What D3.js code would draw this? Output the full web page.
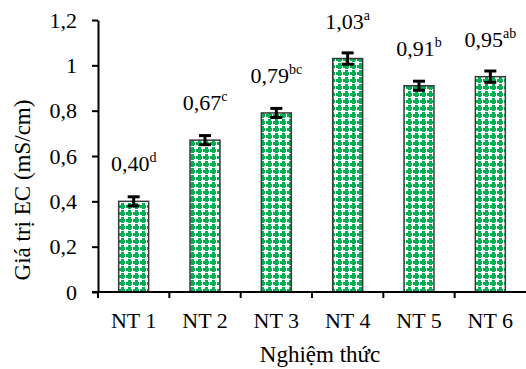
<!DOCTYPE html>
<html>
<head>
<meta charset="utf-8">
<script src="https://cdn.jsdelivr.net/npm/d3@7"></script>
<style>
  body { margin: 0; background: #fff; }
  svg text { font-family: "Liberation Serif", "Times New Roman", serif; fill: #000; }
</style>
</head>
<body>
<div class="chart"></div>
<script>
// data
const treatments = ["NT 1", "NT 2", "NT 3", "NT 4", "NT 5", "NT 6"];
const ecValues = [0.40, 0.67, 0.79, 1.03, 0.91, 0.95];
const ecErrors = [0.02, 0.02, 0.02, 0.025, 0.02, 0.025];
const sigLetters = ["d", "c", "bc", "a", "b", "ab"];
const yTicks = [0, 0.2, 0.4, 0.6, 0.8, 1, 1.2];

const data = treatments.map((t, i) => ({ name: t, value: ecValues[i], err: ecErrors[i], sig: sigLetters[i] }));

const W = 526, H = 369;
const margin = { top: 20, right: 0, bottom: 77, left: 98 };
const fs = "22px";

const svg = d3.select(".chart").append("svg")
    .attr("width", W)
    .attr("height", H);

// green crosses on white (Excel pattern fill)
const defs = svg.append("defs");
const pat = defs.append("pattern")
    .attr("id", "greenPat")
    .attr("patternUnits", "userSpaceOnUse")
    .attr("width", 7).attr("height", 7);
pat.append("rect").attr("width", 7).attr("height", 7).attr("fill", "#fff");
pat.append("rect").attr("x", 2).attr("y", 0).attr("width", 3).attr("height", 6).attr("fill", "#00b050");
pat.append("rect").attr("x", 0).attr("y", 2).attr("width", 6).attr("height", 3).attr("fill", "#00b050");

const x = d3.scaleBand()
    .domain(treatments)
    .range([margin.left, W - margin.right])
    .padding(0);

const y = d3.scaleLinear()
    .domain([0, 1.2])
    .range([H - margin.bottom, margin.top]);

const barW = x.bandwidth() * 0.42;

// Draw bars
svg.append("g")
    .selectAll("rect")
    .data(data)
    .enter().append("rect")
    .attr("x", d => x(d.name) + (x.bandwidth() - barW) / 2)
    .attr("y", d => y(d.value))
    .attr("width", barW)
    .attr("height", d => y(0) - y(d.value))
    .attr("fill", "url(#greenPat)")
    .attr("stroke", "#3a3a3a")
    .attr("stroke-width", 1.5);

// error bars
const eb = svg.append("g").attr("stroke", "#000").attr("stroke-width", 3);
data.forEach(d => {
    const cx = x(d.name) + x.bandwidth() / 2;
    eb.append("line")
        .attr("x1", cx).attr("x2", cx)
        .attr("y1", y(d.value - d.err)).attr("y2", y(d.value + d.err));
    [d.value - d.err, d.value + d.err].forEach(v => {
        eb.append("line")
            .attr("x1", cx - 6).attr("x2", cx + 6)
            .attr("y1", y(v)).attr("y2", y(v));
    });
});

// value labels with superscript letters
const labels = svg.append("g")
    .selectAll("text")
    .data(data)
    .enter().append("text")
    .attr("x", d => x(d.name) + x.bandwidth() / 2)
    .attr("y", d => y(d.value) - 30)
    .attr("text-anchor", "middle")
    .style("font-size", fs);
labels.append("tspan").text(d => d.value.toFixed(2).replace(".", ","));
labels.append("tspan")
    .attr("dy", -9)
    .style("font-size", "14px")
    .text(d => d.sig);

// Add y-axis
const yAxis = svg.append("g")
    .attr("transform", `translate(${margin.left},0)`)
    .call(d3.axisLeft(y)
        .tickValues(yTicks)
        .tickSize(6)
        .tickSizeOuter(0)
        .tickPadding(15)
        .tickFormat(d => String(d).replace(".", ",")));
yAxis.select(".domain").attr("stroke-width", 2);
yAxis.selectAll(".tick line").attr("stroke-width", 2);
yAxis.selectAll(".tick text").style("font-size", fs).attr("font-family", null);

// Add x-axis
const xAxis = svg.append("g")
    .attr("transform", `translate(0,${y(0)})`)
    .call(d3.axisBottom(x).tickSize(0).tickSizeOuter(0).tickPadding(20));
xAxis.select(".domain").attr("stroke-width", 2).attr("d", `M${margin.left - 6},0H${W}`);
xAxis.selectAll(".tick text").style("font-size", fs).attr("font-family", null);

// tick marks between categories
xAxis.append("g")
    .selectAll("line")
    .data(treatments)
    .enter().append("line")
    .attr("x1", d => x(d)).attr("x2", d => x(d))
    .attr("y1", 0).attr("y2", 6)
    .attr("stroke", "#000")
    .attr("stroke-width", 2);

// axis titles
svg.append("text")
    .attr("transform", "rotate(-90)")
    .attr("x", -190)
    .attr("y", 30)
    .attr("text-anchor", "middle")
    .style("font-size", "23px")
    .text("Giá trị EC (mS/cm)");

svg.append("text")
    .attr("x", 320)
    .attr("y", 362)
    .attr("text-anchor", "middle")
    .style("font-size", "23px")
    .text("Nghiệm thức");
</script>
</body>
</html>
